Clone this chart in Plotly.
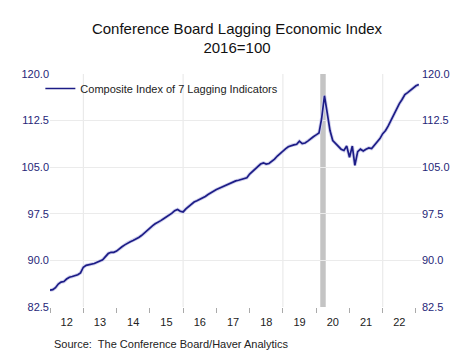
import plotly.graph_objects as go
import pandas as pd

# ---- data (monthly, Jan 2012 - Feb 2023), 2016=100 ----
lag_2012 = [85.2, 85.3, 85.6, 86.2, 86.5, 86.6, 87.0, 87.3, 87.4, 87.5, 87.7, 88.0]
lag_2013 = [88.9, 89.2, 89.3, 89.3, 89.5, 89.7, 89.9, 90.1, 90.6, 91.1, 91.3, 91.3]
lag_2014 = [91.5, 91.9, 92.2, 92.5, 92.8, 93.0, 93.2, 93.4, 93.7, 94.0, 94.4, 94.9]
lag_2015 = [95.3, 95.6, 95.9, 96.1, 96.4, 96.7, 97.0, 97.2, 97.6, 98.0, 98.2, 97.9]
lag_2016 = [97.8, 98.3, 98.7, 99.0, 99.4, 99.6, 99.8, 100.0, 100.3, 100.6, 100.9, 101.2]
lag_2017 = [101.4, 101.6, 101.8, 102.0, 102.2, 102.4, 102.6, 102.8, 102.9, 103.0, 103.1, 103.3]
lag_2018 = [103.9, 104.3, 104.7, 105.1, 105.5, 105.7, 105.5, 105.6, 105.9, 106.3, 106.8, 107.2]
lag_2019 = [107.7, 108.0, 108.3, 108.5, 108.6, 108.7, 109.2, 108.8, 108.9, 109.2, 109.6, 109.9]
lag_2020 = [110.2, 110.5, 112.8, 116.5, 113.8, 110.9, 109.3, 108.8, 108.3, 107.9, 107.7, 108.4]
lag_2021 = [106.6, 108.4, 105.3, 107.5, 107.9, 107.6, 107.9, 108.1, 108.0, 108.5, 109.0, 109.6]
lag_2022 = [110.4, 110.9, 111.6, 112.5, 113.5, 114.5, 115.2, 115.9, 116.7, 117.0, 117.4, 117.8]
lag_2023 = [118.1, 118.3]

values = (lag_2012 + lag_2013 + lag_2014 + lag_2015 + lag_2016 + lag_2017 +
          lag_2018 + lag_2019 + lag_2020 + lag_2021 + lag_2022 + lag_2023)
dates = pd.date_range("2012-01-01", periods=len(values), freq="MS")

recession_start = "2020-02-15"
recession_end = "2020-04-15"
grid_years = ["2013-01-01", "2016-01-01", "2019-01-01", "2022-01-01"]

series_name = "Composite Index of 7 Lagging Indicators"
navy = "#1c1c86"
tick_navy = "#262678"

fig = go.Figure()

# soft shadow under the line
fig.add_trace(go.Scatter(x=dates, y=values, mode="lines",
                         line=dict(color="#d2d2ee", width=3.5),
                         showlegend=False, hoverinfo="skip"))
fig.add_trace(go.Scatter(x=dates, y=values, mode="lines", name=series_name,
                         line=dict(color=navy, width=1.7)))
# invisible copy on the right axis so it is drawn
fig.add_trace(go.Scatter(x=dates, y=values, mode="lines", yaxis="y2",
                         line=dict(color="rgba(0,0,0,0)", width=0),
                         showlegend=False, hoverinfo="skip"))

shapes = []
for g in grid_years:
    shapes.append(dict(type="line", xref="x", yref="paper", x0=g, x1=g, y0=0, y1=1,
                       line=dict(color="#e6e6e6", width=1), layer="below"))
shapes.append(dict(type="rect", xref="x", yref="paper", x0=recession_start, x1=recession_end,
                   y0=0, y1=1, fillcolor="#c4c4c4", line=dict(width=0), layer="below"))

yaxis_common = dict(range=[82.5, 120], dtick=7.5, tick0=82.5, tickformat=".1f",
                    tickfont=dict(family="Liberation Sans, Arial", size=11, color=tick_navy),
                    ticks="", zeroline=False, fixedrange=True, automargin=False)

fig.update_layout(
    width=474, height=355,
    margin=dict(l=50, r=53, t=74, b=48, autoexpand=False),
    paper_bgcolor="white", plot_bgcolor="white",
    font=dict(family="Liberation Sans, Arial", size=11, color="#222"),
    title=dict(text="Conference Board Lagging Economic Index<br>2016=100",
               x=0.5, xanchor="center", y=0.905, yanchor="top", automargin=False,
               font=dict(family="Liberation Sans, Arial", size=15, color="#111")),
    xaxis=dict(type="date", range=["2012-01-01", "2023-02-25"],
               dtick="M12", tick0="2012-01-01", tickformat="%y",
               ticklabelmode="period", ticks="outside", ticklen=5, tickcolor="#aaaaaa",
               showgrid=False, showline=False, zeroline=False, automargin=False,
               fixedrange=True,
               tickfont=dict(family="Liberation Sans, Arial", size=11, color="#222")),
    yaxis=dict(side="left", showgrid=True, gridcolor="#ebebeb", gridwidth=1, **yaxis_common),
    yaxis2=dict(side="right", overlaying="y", showgrid=False, **yaxis_common),
    shapes=shapes,
    showlegend=True,
    legend=dict(x=-0.026, y=1.0, xanchor="left", yanchor="top", bgcolor="rgba(0,0,0,0)",
                itemwidth=30, font=dict(family="Liberation Sans, Arial", size=11, color="#222")),
    annotations=[dict(text="Source:  The Conference Board/Haver Analytics",
                      xref="paper", yref="paper", x=0.005, y=-0.125, xanchor="left", yanchor="top",
                      showarrow=False,
                      font=dict(family="Liberation Sans, Arial", size=11, color="#222"))],
)

fig.write_html("out.html",
               config={"displayModeBar": False},
               post_script="document.body.style.margin='0';document.body.style.padding='0';")
